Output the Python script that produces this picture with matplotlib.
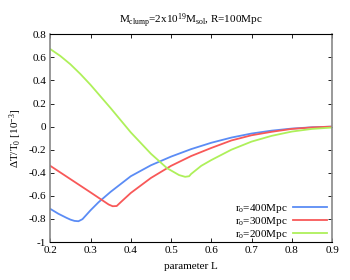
import matplotlib
matplotlib.use("Agg")
import matplotlib.pyplot as plt
from matplotlib.ticker import FixedLocator

plt.rcParams['font.family'] = ['Liberation Serif', 'DejaVu Serif']
plt.rcParams['mathtext.fontset'] = 'custom'
plt.rcParams['mathtext.rm'] = 'Liberation Serif'
plt.rcParams['mathtext.it'] = 'Liberation Serif'

# r0 = 400 Mpc
L_400 = [0.20, 0.22, 0.24, 0.25, 0.26, 0.27, 0.28, 0.30, 0.32, 0.35, 0.40, 0.45,
         0.50, 0.55, 0.60, 0.65, 0.70, 0.75, 0.80, 0.85, 0.90]
dT_400 = [-0.713, -0.755, -0.79, -0.806, -0.817, -0.82, -0.802, -0.725, -0.655, -0.565,
          -0.43, -0.335, -0.26, -0.195, -0.14, -0.095, -0.06, -0.035, -0.017, -0.006, 0.0]

# r0 = 300 Mpc
L_300 = [0.20, 0.25, 0.30, 0.33, 0.345, 0.355, 0.365, 0.375, 0.40, 0.45, 0.50, 0.55,
         0.60, 0.65, 0.70, 0.75, 0.80, 0.85, 0.90]
dT_300 = [-0.34, -0.455, -0.57, -0.64, -0.675, -0.69, -0.688, -0.655, -0.575, -0.445,
          -0.34, -0.255, -0.185, -0.12, -0.075, -0.045, -0.02, -0.007, 0.0]

# r0 = 200 Mpc
L_200 = [0.20, 0.225, 0.25, 0.275, 0.30, 0.35, 0.40, 0.45, 0.49, 0.52, 0.535, 0.545,
         0.55, 0.575, 0.60, 0.65, 0.70, 0.75, 0.80, 0.85, 0.90]
dT_200 = [0.672, 0.612, 0.54, 0.455, 0.362, 0.16, -0.05, -0.235, -0.36, -0.42, -0.435,
          -0.43, -0.41, -0.34, -0.29, -0.20, -0.13, -0.08, -0.043, -0.02, -0.008]

labels = [r'r$_\mathrm{o}$=400Mpc', r'r$_\mathrm{o}$=300Mpc', r'r$_\mathrm{o}$=200Mpc']
colors = ['#5b8cf5', '#f85858', '#aef05a']

xticks = [0.2, 0.3, 0.4, 0.5, 0.6, 0.7, 0.8, 0.9]
yticks = [-1, -0.8, -0.6, -0.4, -0.2, 0, 0.2, 0.4, 0.6, 0.8]

fig = plt.figure(figsize=(3.5, 2.8), dpi=100)
ax = fig.add_axes([0.1437, 0.1357, 0.8049, 0.7418])

ax.plot(L_400, dT_400, color=colors[0], lw=1.3, label=labels[0])
ax.plot(L_300, dT_300, color=colors[1], lw=1.3, label=labels[1])
ax.plot(L_200, dT_200, color=colors[2], lw=1.3, label=labels[2])

ax.set_xlim(0.2, 0.9)
ax.set_ylim(-1, 0.8)
ax.xaxis.set_major_locator(FixedLocator(xticks))
ax.yaxis.set_major_locator(FixedLocator(yticks))
ax.set_xticklabels(['%g' % t for t in xticks])
ax.set_yticklabels(['%g' % t for t in yticks])
ax.tick_params(direction='in', top=True, right=True, length=3, width=0.6,
               labelsize=8, pad=3, colors='black')

for s in ['left', 'right']:
    ax.spines[s].set_color('#888888')
    ax.spines[s].set_linewidth(1.2)
for s in ['top', 'bottom']:
    ax.spines[s].set_color('black')
    ax.spines[s].set_linewidth(0.8)

ax.set_xlabel('parameter L', fontsize=8, labelpad=5)
ax.set_ylabel(r'$\Delta$T/T$_\mathrm{0}$ [10$^{-3}$]', fontsize=8, labelpad=3)
ax.set_title(r'M$_\mathrm{clump}$=2x10$^\mathrm{19}$M$_\mathrm{sol}$, R=100Mpc',
             fontsize=8, pad=8)

leg = ax.legend(loc='lower right', frameon=False, fontsize=8, markerfirst=False,
                handlelength=3.0, handletextpad=0.5, labelspacing=0.0,
                borderpad=0.1, borderaxespad=0.0, bbox_to_anchor=(0.985, 0.0))
for t in leg.get_texts():
    t.set_ha('right')

fig.savefig('out.png', dpi=100)
